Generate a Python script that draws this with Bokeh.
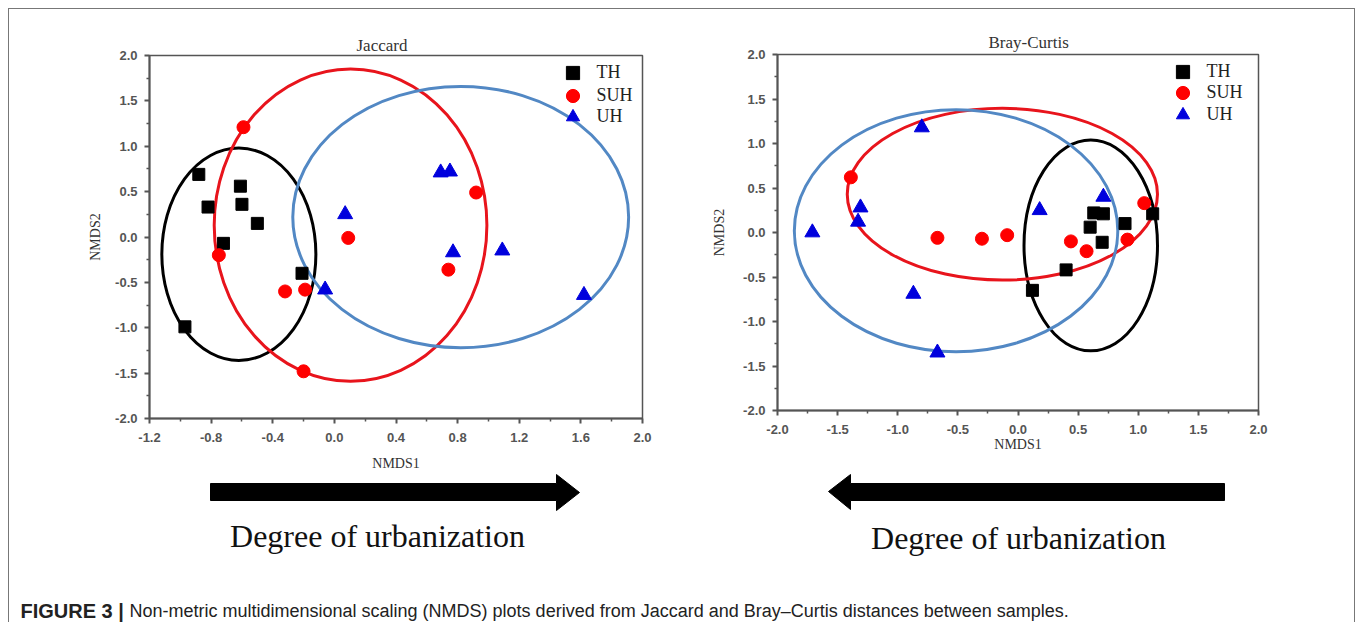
from bokeh.plotting import figure
from bokeh.layouts import column, row
from bokeh.models import Range1d, FixedTicker, NumeralTickFormatter, Legend, LegendItem
from bokeh.embed import file_html
from bokeh.resources import INLINE
from bokeh.core.properties import value

# ---------------- data: Jaccard ----------------
jac_th_x = [-0.88, -0.82, -0.61, -0.60, -0.50, -0.72, -0.21, -0.97]
jac_th_y = [0.69, 0.33, 0.56, 0.36, 0.15, -0.07, -0.40, -0.99]
jac_suh_x = [-0.59, -0.75, -0.32, -0.19, -0.20, 0.09, 0.92, 0.74]
jac_suh_y = [1.21, -0.20, -0.60, -0.58, -1.48, -0.01, 0.49, -0.36]
jac_uh_x = [0.07, 0.69, 0.75, 0.77, 1.09, 1.62, -0.06]
jac_uh_y = [0.25, 0.71, 0.72, -0.17, -0.15, -0.64, -0.58]
# ellipses (TH, SUH, UH): centre x, centre y, width, height
jac_ell_cx = [-0.62, 0.105, 0.82]
jac_ell_cy = [-0.19, 0.13, 0.22]
jac_ell_w = [1.00, 1.77, 2.18]
jac_ell_h = [2.34, 3.44, 2.88]
jac_xticks = [-1.2, -0.8, -0.4, 0.0, 0.4, 0.8, 1.2, 1.6, 2.0]
jac_xminor = [-1.0, -0.6, -0.2, 0.2, 0.6, 1.0, 1.4, 1.8]

# ---------------- data: Bray-Curtis ----------------
bc_th_x = [0.63, 0.71, 0.60, 0.89, 1.12, 0.70, 0.40, 0.12]
bc_th_y = [0.22, 0.21, 0.06, 0.10, 0.21, -0.11, -0.42, -0.65]
bc_suh_x = [-1.39, -0.67, -0.30, -0.09, 0.44, 0.57, 0.91, 1.05]
bc_suh_y = [0.62, -0.06, -0.07, -0.03, -0.10, -0.21, -0.08, 0.33]
bc_uh_x = [-1.71, -1.31, -1.33, -0.80, -0.87, -0.67, 0.18, 0.71]
bc_uh_y = [0.00, 0.28, 0.12, 1.18, -0.69, -1.35, 0.25, 0.40]
bc_ell_cx = [0.605, -0.13, -0.515]
bc_ell_cy = [-0.145, 0.43, 0.02]
bc_ell_w = [1.11, 2.58, 2.69]
bc_ell_h = [2.37, 1.93, 2.72]
bc_xticks = [-2.0, -1.5, -1.0, -0.5, 0.0, 0.5, 1.0, 1.5, 2.0]
bc_xminor = [-1.75, -1.25, -0.75, -0.25, 0.25, 0.75, 1.25, 1.75]

yticks = [-2.0, -1.5, -1.0, -0.5, 0.0, 0.5, 1.0, 1.5, 2.0]
yminor = [-1.75, -1.25, -0.75, -0.25, 0.25, 0.75, 1.25, 1.75]

groups = ["TH", "SUH", "UH"]
ell_colors = ["#000000", "#e8141c", "#5288c4"]
AXC = "#555555"
SERIF = "Liberation Serif"
SANS = "Liberation Sans"


def panel(title, xr, xticks, xminor, th, suh, uh, ell, w, h, borders, leg_x, leg_ys,
          ylab_standoff, xlab_standoff, title_offset, title_standoff):
    p = figure(width=w, height=h, x_range=Range1d(*xr), y_range=Range1d(-2.0, 2.0),
               output_backend="svg", toolbar_location=None,
               min_border_left=borders[0], min_border_right=borders[1],
               min_border_top=borders[2], min_border_bottom=borders[3])
    p.grid.visible = False
    p.outline_line_color = AXC
    p.outline_line_width = 1.5
    p.background_fill_color = "white"
    p.border_fill_color = "white"
    p.title.text = title
    p.title.align = "left"
    p.title.offset = title_offset
    p.title.text_font = SERIF
    p.title.text_font_size = "17px"
    p.title.text_font_style = "normal"
    p.title.text_color = "#333333"
    p.title.standoff = title_standoff
    p.xaxis.ticker = FixedTicker(ticks=xticks, minor_ticks=xminor)
    p.yaxis.ticker = FixedTicker(ticks=yticks, minor_ticks=yminor)
    p.axis.formatter = NumeralTickFormatter(format="0.0")
    for ax in [p.xaxis[0], p.yaxis[0]]:
        ax.axis_line_color = AXC
        ax.axis_line_width = 2
        ax.major_tick_line_color = AXC
        ax.major_tick_line_width = 2
        ax.major_tick_out = 5
        ax.major_tick_in = 0
        ax.minor_tick_line_color = AXC
        ax.minor_tick_line_width = 1.5
        ax.minor_tick_out = 3
        ax.minor_tick_in = 0
        ax.major_label_text_font = SANS
        ax.major_label_text_font_size = "13px"
        ax.major_label_text_font_style = "bold"
        ax.major_label_text_color = AXC
        ax.axis_label_text_font = SERIF
        ax.axis_label_text_font_size = "14px"
        ax.axis_label_text_font_style = "normal"
        ax.axis_label_text_color = "#333333"
    p.xaxis.major_label_standoff = 9
    p.yaxis.major_label_standoff = 7
    p.xaxis.axis_label = "NMDS1"
    p.yaxis.axis_label = "NMDS2"
    p.yaxis.axis_label_standoff = ylab_standoff
    p.xaxis.axis_label_standoff = xlab_standoff

    cx, cy, ew, eh = ell
    for i in range(3):
        p.ellipse(x=[cx[i]], y=[cy[i]], width=[ew[i]], height=[eh[i]],
                  fill_alpha=0, line_color=ell_colors[i], line_width=3)

    r_th = p.scatter(th[0], th[1], marker="square", size=12, color="#000000")
    r_suh = p.scatter(suh[0], suh[1], marker="circle", size=13, color="#ff0000")
    r_uh = p.scatter(uh[0], uh[1], marker="triangle", size=15, color="#0000dd")

    for name, rend, ly in zip(groups, [r_th, r_suh, r_uh], leg_ys):
        lg = Legend(items=[LegendItem(label=name, renderers=[rend])], location=(leg_x, ly),
                    border_line_color=None, background_fill_alpha=0,
                    label_text_font=SERIF, label_text_font_size="18px",
                    label_text_color="#222222", glyph_width=33, glyph_height=33,
                    label_height=20, spacing=0, padding=0, margin=0, label_standoff=8)
        p.add_layout(lg)
    return p


pL = panel("Jaccard", (-1.2, 2.0), jac_xticks, jac_xminor,
           (jac_th_x, jac_th_y), (jac_suh_x, jac_suh_y), (jac_uh_x, jac_uh_y),
           (jac_ell_cx, jac_ell_cy, jac_ell_w, jac_ell_h),
           682, 464, (140, 49, 46, 54), 406.5, (329.5, 306.5, 285.5), 9, 11, 207, 2)

pR = panel("Bray-Curtis", (-2.0, 2.0), bc_xticks, bc_xminor,
           (bc_th_x, bc_th_y), (bc_suh_x, bc_suh_y), (bc_uh_x, bc_uh_y),
           (bc_ell_cx, bc_ell_cy, bc_ell_w, bc_ell_h),
           663, 464, (86, 96, 45, 63), 388.5, (322.5, 301.5, 279.5), 13, 0, 211, 5)

# ---------------- bottom strip: arrows, labels, caption ----------------
pB = figure(width=1345, height=149, x_range=Range1d(0, 1345), y_range=Range1d(149, 0),
            output_backend="svg", toolbar_location=None, min_border=0,
            x_axis_location=None, y_axis_location=None)
pB.grid.visible = False
pB.outline_line_color = None

arrow_right_xs = [201, 547, 547, 570, 547, 547, 201]
arrow_right_ys = [10, 10, 1, 19, 37, 27, 27]
arrow_left_xs = [1215, 841, 841, 819, 841, 841, 1215]
arrow_left_ys = [10, 10, 1, 18, 36, 27, 27]
pB.patch(arrow_right_xs, arrow_right_ys, color="#000000")
pB.patch(arrow_left_xs, arrow_left_ys, color="#000000")

pB.text(x=[368, 1009], y=[62, 64], text=["Degree of urbanization", "Degree of urbanization"],
        text_align="center", text_baseline="middle", text_font=value(SERIF),
        text_font_size="32px", text_color="#111111")
pB.text(x=[11], y=[137], text=["FIGURE 3 |"], text_align="left", text_baseline="middle",
        text_font=value(SANS), text_font_style="bold", text_font_size="20px",
        text_color="#222222")
pB.text(x=[120], y=[137],
        text=["Non-metric multidimensional scaling (NMDS) plots derived from Jaccard and Bray\u2013Curtis distances between samples."],
        text_align="left", text_baseline="middle", text_font=value(SANS),
        text_font_size="18px", text_color="#222222")

layout = column(row(column(pL), column(pR)), pB, margin=(8, 0, 0, 8),
                styles={"border-left": "1px solid #777777", "border-top": "1px solid #777777",
                        "border-right": "1px solid #777777"})

open("out.html", "w").write(file_html(layout, INLINE))
